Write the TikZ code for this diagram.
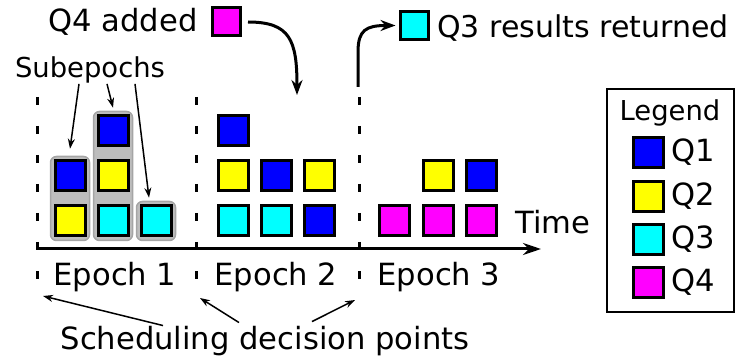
\documentclass[tikz,border=0pt]{standalone}
\usepackage{fontspec}
\setmainfont{DejaVu Sans}
\usetikzlibrary{arrows.meta,fit,backgrounds}
\definecolor{qone}{RGB}{0,0,255}
\definecolor{qtwo}{RGB}{255,255,0}
\definecolor{qthree}{RGB}{0,255,255}
\definecolor{qfour}{RGB}{255,0,255}
\definecolor{subgray}{RGB}{189,189,189}
\definecolor{subedge}{RGB}{165,165,165}
\tikzset{
  sq/.style={draw=black, line width=3pt, inner sep=0pt, minimum size=30pt, fill=#1},
  subbox/.style={fill=subgray, draw=subedge, line width=1.5pt, rounded corners=6pt, inner sep=3pt},
  txt/.style={inner sep=0pt, anchor=base, font=\fontsize{30.6}{36}\selectfont},
  smalltxt/.style={inner sep=0pt, anchor=base, font=\fontsize{27.4}{32}\selectfont},
  decision/.style={line width=3pt, dash pattern=on 8pt off 21pt},
  thin arrow/.style={line width=1.5pt, -{Stealth[length=10pt,width=7pt]}},
  thick arrow/.style={line width=3pt, -{Stealth[length=15pt,width=11pt]}}
}
\begin{document}
\begin{tikzpicture}[x=1pt,y=-1pt]
\useasboundingbox (0,0) rectangle (747,358);

% queries in the three epochs
\foreach \x/\y/\c/\n in {70/221/qtwo/a11, 70/176/qone/a12,
    113/221/qthree/a21, 113/176/qtwo/a22, 113/131/qone/a23, 156/221/qthree/a31,
    233/221/qthree/b11, 233/176/qtwo/b12, 233/131/qone/b13,
    276/221/qthree/b21, 276/176/qone/b22, 319/221/qone/b31, 319/176/qtwo/b32,
    394/221/qfour/c11, 438/221/qfour/c21, 438/176/qtwo/c22,
    481/221/qfour/c31, 481/176/qone/c32}
  \node[sq=\c] (\n) at (\x,\y) {};

\begin{pgfonlayer}{background}
  \node[subbox, fit=(a11)(a12)] (sub1) {};
  \node[subbox, fit=(a21)(a23)] (sub2) {};
  \node[subbox, fit=(a31)] (sub3) {};
\end{pgfonlayer}

% decision points
\coordinate (d1t) at (37,97);  \coordinate (d1b) at (37,298);
\coordinate (d2t) at (196,97); \coordinate (d2b) at (196,298);
\coordinate (d3t) at (359,97); \coordinate (d3b) at (359,298);
\draw[decision] (d1t) -- (d1b);
\draw[decision] (d2t) -- (d2b);
\draw[decision] (d3t) -- (d3b);

% time axis
\coordinate (t0) at (36,249);
\coordinate (t1) at (541,249);
\draw[line width=3pt, -{Stealth[length=18pt,width=12pt]}] (t0) -- (t1);
\node[txt] (timelbl) at (553,234) {Time};

\node[txt] (ep1) at (115,285) {Epoch 1};
\node[txt] (ep2) at (276,285) {Epoch 2};
\node[txt] (ep3) at (439,285) {Epoch 3};

\node[smalltxt] (sublbl) at (90,78) {Subepochs};
\draw[thin arrow] ([xshift=-11pt]sublbl.south) -- ([yshift=7pt]sub1.north);
\draw[thin arrow] ([xshift=17pt]sublbl.south) -- ([yshift=3pt]sub2.north);
\draw[thin arrow] ([xshift=45pt]sublbl.south) -- ([xshift=-7pt,yshift=3pt]sub3.north);

\node[txt] (schedlbl) at (265,349) {Scheduling decision points};
\draw[thin arrow] ([xshift=-102pt]schedlbl.north) -- ([xshift=6pt,yshift=2pt]d1b);
\draw[thin arrow] ([xshift=-26pt,yshift=3pt]schedlbl.north) -- ([xshift=4pt]d2b);
\draw[thin arrow] ([xshift=47pt,yshift=4pt]schedlbl.north) -- ([xshift=-4pt,yshift=-2pt]d3b);

% query arrival and return
\node[txt] (q4lbl) at (123,32) {Q4 added};
\node[sq=qfour, minimum size=28pt] (q4sq) at (226.5,22) {};
\coordinate (q4in) at (297,95);
\draw[thick arrow] ([xshift=6pt]q4sq.east) .. controls (290,22) and (297,40) .. (q4in);

\node[sq=qthree, minimum size=28pt] (q3sq) at (414,25.5) {};
\node[txt, anchor=base west, font=\fontsize{30}{36}\selectfont] (q3lbl) at (437,38) {Q3 results returned};
\draw[thick arrow] ([xshift=-1pt,yshift=10pt]d3t) -- (358,52) .. controls (358,30) and (366,25.5) .. ([xshift=-3pt]q3sq.west);

% legend
\node[draw, line width=1.5pt, minimum width=127pt, minimum height=223pt, inner sep=0pt] (legend) at (670.5,200.5) {};
\node[smalltxt] (legendlbl) at (670,121) {Legend};
\foreach \c/\t/\y in {qone/Q1/153, qtwo/Q2/196.5, qthree/Q3/239.5, qfour/Q4/282.5} {
  \node[sq=\c] (key\t) at (648,\y) {};
  \node[txt, anchor=base west] (lbl\t) at (671,\y+9) {\t};
}
\end{tikzpicture}
\end{document}
